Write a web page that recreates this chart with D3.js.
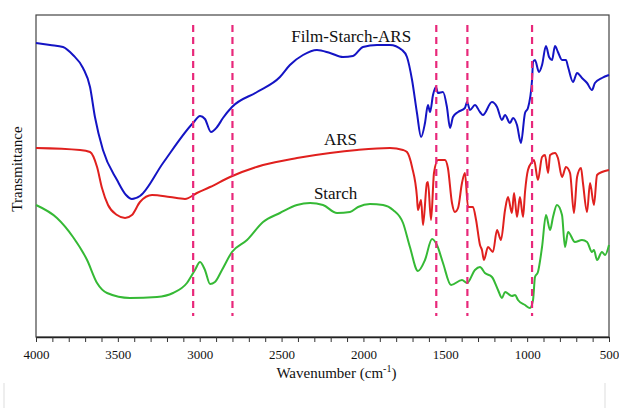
<!DOCTYPE html>
<html>
<head>
<meta charset="UTF-8">
<title>FTIR spectra</title>
<script src="https://d3js.org/d3.v7.min.js"></script>
<style>
  body { margin: 0; background: #fff; }
  text { font-family: "Liberation Serif", "Times New Roman", serif; fill: #111; }
  .spec { fill: none; stroke-width: 2; stroke-linejoin: round; }
  .mark { stroke: #e8287a; stroke-width: 2.2; stroke-dasharray: 7,5; }
</style>
</head>
<body>
<svg width="619" height="408"></svg>
<script>
// [wavenumber (cm-1), transmittance (a.u.)]
var filmStarchArs = [
  [4000,294],[3914,292],[3835,290],[3774,282],[3713,269],[3670,250],[3640,220],[3591,187],
  [3505,157],[3450,142],[3414,138],[3365,141],[3224,174],[3041,214],[2998,221],[2968,218],
  [2931,205],[2894,210],[2858,219],[2803,230],[2650,245],[2510,260],[2449,272],[2369,282],
  [2284,287],[2204,284],[2125,280],[2064,281],[2003,290],[1917,292],[1838,292],[1764,287],
  [1734,280],[1703,257],[1673,224],[1648,200],[1624,214],[1606,232],[1593,225],[1575,242],
  [1557,250],[1545,244],[1514,245],[1490,230],[1471,209],[1453,220],[1422,225],[1380,229],
  [1367,235],[1349,227],[1319,232],[1288,225],[1270,222],[1215,235],[1184,230],[1154,217],
  [1135,222],[1105,214],[1086,219],[1062,212],[1038,194],[1013,224],[995,229],[970,257],
  [964,275],[952,277],[928,265],[909,272],[885,291],[866,280],[848,277],[830,291],
  [812,285],[787,277],[763,277],[750,270],[720,255],[695,264],[665,259],[634,254],
  [604,247],[586,254],[543,259],[500,262]
];
var ars = [
  [4000,189],[3731,187],[3670,185],[3627,170],[3597,149],[3560,132],[3505,122],[3456,119],
  [3414,122],[3365,135],[3291,142],[3182,140],[3090,138],[3017,144],[2937,150],[2815,160],
  [2613,172],[2406,179],[2204,184],[2039,187],[1838,189],[1758,187],[1734,185],[1703,170],
  [1673,140],[1667,127],[1648,137],[1636,112],[1612,154],[1606,155],[1587,117],[1569,164],
  [1545,177],[1502,177],[1484,169],[1459,134],[1441,125],[1422,129],[1398,154],[1380,164],
  [1361,130],[1331,130],[1312,117],[1288,92],[1276,87],[1264,77],[1239,90],[1209,85],
  [1184,107],[1160,97],[1135,127],[1117,140],[1093,124],[1080,144],[1062,120],[1044,140],
  [1025,120],[1013,145],[995,167],[970,175],[958,177],[934,157],[909,180],[891,182],
  [872,164],[860,182],[830,184],[812,179],[787,160],[763,170],[738,164],[714,124],
  [695,160],[671,169],[659,154],[634,125],[616,154],[592,132],[573,162],[543,165],[500,167]
];
var starch = [
  [4000,132],[3872,119],[3774,100],[3688,77],[3627,54],[3566,44],[3426,39],[3261,40],
  [3163,44],[3078,54],[3029,67],[2998,75],[2968,67],[2937,53],[2907,55],[2864,67],
  [2803,85],[2711,97],[2613,115],[2510,124],[2406,132],[2326,134],[2247,132],[2161,124],
  [2082,125],[2033,130],[1960,133],[1880,132],[1819,127],[1758,114],[1716,90],[1667,66],
  [1624,77],[1581,98],[1551,92],[1514,74],[1465,52],[1398,57],[1367,54],[1319,67],
  [1288,70],[1258,64],[1215,60],[1178,47],[1154,39],[1135,45],[1093,41],[1074,42],
  [1056,37],[1013,32],[983,29],[964,37],[952,60],[934,65],[909,90],[885,122],
  [860,107],[842,120],[818,132],[787,122],[769,90],[750,105],[708,95],[665,97],
  [634,95],[604,85],[592,87],[573,77],[543,85],[524,82],[500,92]
];
var markLines = [3040, 2800, 1555, 1365, 970];
var markRange = [21, 312];
var xTicks = d3.range(500, 4001, 100);

var series = [
  {name: "Film-Starch-ARS", data: filmStarchArs, color: "#1414c4", at: [2075, 295]},
  {name: "ARS", data: ars, color: "#e0201e", at: [2140, 192]},
  {name: "Starch", data: starch, color: "#35b935", at: [2170, 138]}
];

var svg = d3.select("svg"),
    margin = {top: 15, right: 10, bottom: 71, left: 36},
    width = +svg.attr("width") - margin.left - margin.right,
    height = +svg.attr("height") - margin.top - margin.bottom;

var x = d3.scaleLinear().domain([4000, 500]).range([0, width]),
    y = d3.scaleLinear().domain([0, 322]).range([height, 0]);

var g = svg.append("g")
    .attr("transform", `translate(${margin.left},${margin.top})`);

g.append("rect")
    .attr("width", width)
    .attr("height", height)
    .attr("fill", "none")
    .attr("stroke", "#444")
    .attr("stroke-width", 1.2);

var xAxis = d3.axisBottom(x)
    .tickValues(xTicks)
    .tickSize(5)
    .tickSizeOuter(0)
    .tickFormat(function(d) { return d % 500 === 0 ? d : ""; });

var ax = g.append("g")
    .attr("transform", `translate(0,${height})`)
    .call(xAxis)
    .attr("font-family", null);
ax.select(".domain").attr("stroke", "#222").attr("stroke-width", 1.6);
ax.selectAll(".tick line").attr("stroke", "#333");
ax.selectAll(".tick text")
    .attr("dy", "1.05em")
    .style("font-family", "'Liberation Serif', serif")
    .style("font-size", "13px")
    .attr("fill", "#111");

var line = d3.line()
    .x(function(d) { return x(d[0]); })
    .y(function(d) { return y(d[1]); })
    .curve(d3.curveMonotoneX);

g.selectAll(".spec")
    .data(series)
    .enter().append("path")
    .attr("class", "spec")
    .attr("stroke", function(d) { return d.color; })
    .attr("d", function(d) { return line(d.data); });

g.selectAll(".mark")
    .data(markLines)
    .enter().append("line")
    .attr("class", "mark")
    .attr("x1", function(d) { return x(d); })
    .attr("x2", function(d) { return x(d); })
    .attr("y1", y(markRange[1]))
    .attr("y2", y(markRange[0]));

g.selectAll(".lbl")
    .data(series)
    .enter().append("text")
    .attr("class", "lbl")
    .attr("x", function(d) { return x(d.at[0]); })
    .attr("y", function(d) { return y(d.at[1]); })
    .attr("text-anchor", "middle")
    .style("font-size", "17px")
    .text(function(d) { return d.name; });

var xl = svg.append("text")
    .attr("x", margin.left + x(2165))
    .attr("y", 378)
    .attr("text-anchor", "middle")
    .style("font-size", "15px");
xl.append("tspan").text("Wavenumber  (cm");
xl.append("tspan").attr("dy", -6).style("font-size", "10px").text("-1");
xl.append("tspan").attr("dy", 6).text(")");

svg.append("text")
    .attr("transform", `translate(22,${margin.top + y(168)}) rotate(-90)`)
    .attr("text-anchor", "middle")
    .style("font-size", "15px")
    .text("Transmittance");

// faint frame edges below the chart
svg.append("g")
    .selectAll("line")
    .data([4, 605])
    .enter().append("line")
    .attr("x1", function(d) { return d; })
    .attr("x2", function(d) { return d; })
    .attr("y1", 383)
    .attr("y2", 408)
    .attr("stroke", "#ddd");
</script>
</body>
</html>
